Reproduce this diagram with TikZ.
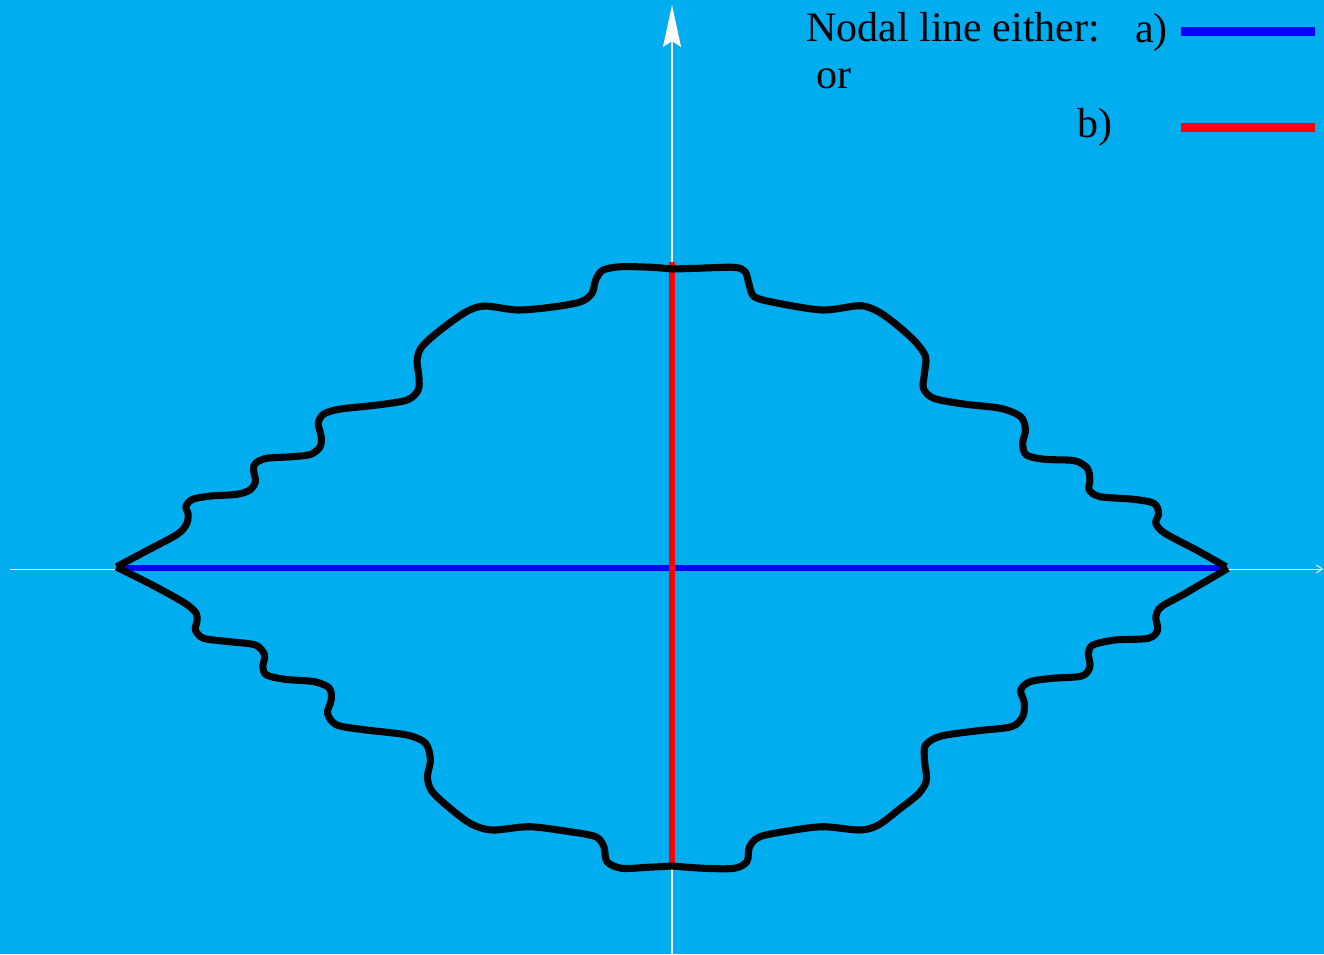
\documentclass[tikz,border=0pt]{standalone}
\usepackage{fontspec}
\setmainfont{Liberation Serif}
\usetikzlibrary{arrows.meta}
\definecolor{bgcyan}{RGB}{0,174,239}
\definecolor{nodalblue}{RGB}{0,0,255}
\definecolor{nodalred}{RGB}{255,0,0}
\tikzset{
  axisline/.style={white, line width=0.6pt},
  vaxis/.style={white, line width=1.5pt},
  wavy/.style={black, line width=5.3pt, line cap=butt, line join=round},
  nodala/.style={nodalblue, line width=5.2pt},
  nodalb/.style={nodalred, line width=5.2pt},
  keyline/.style={line width=6.75pt},
  legtext/.style={anchor=base west, inner sep=0pt, font=\fontsize{31.5}{37}\selectfont}
}
\begin{document}
\begin{tikzpicture}[x=0.75pt, y=-0.75pt]
\fill[bgcyan] (0,0) rectangle (1324,954);
\useasboundingbox (0,0) rectangle (1324,954);

% axes
\coordinate (hl) at (10,569);
\coordinate (hr) at (1323,569);
\coordinate (vb) at (672,954);
\coordinate (vt) at (672,5);
\draw[axisline, -{Straight Barb[length=4.5pt,width=6pt,line width=0.6pt]}] (hl) -- (hr);
\draw[vaxis, -{Stealth[length=31.5pt,width=13.5pt,inset=4.5pt]}] (vb) -- (vt);

% nodal lines
\coordinate (ltip) at (117,568);
\coordinate (rtip) at (1226,568);
\coordinate (ctop) at (672,262);
\coordinate (cbot) at (672,866);
\draw[nodala] (ltip) -- (rtip);
\draw[nodalb] (ctop) -- (cbot);

% wavy boundary: four quarters
\draw[wavy] plot[smooth, tension=0.5] coordinates {
(116.6,566.7) (148.1,550) (177.7,534) (186.9,523.3) (188,513.3) (185.8,506.7) (192.5,499.3) (211,496) (236.9,494.3) (249.8,490) (255.4,481.7) (253.5,470) (255.4,463.3) (266.5,458.3) (292.4,456.7) (310.9,454.3) (320.1,446.7) (321.2,436.7) (318.3,423.3) (323.8,414) (340.5,409) (377.5,405) (407.1,400) (418.2,390) (418.9,376.7) (417.1,360) (421.9,346.7) (440.4,330) (466.3,311.7) (484.8,306) (518.1,310) (555,306.7) (580.9,301.7) (592,293.3) (595.7,280) (603.1,270) (621.6,266.7) (651.2,267.3) (672,269)};
\draw[wavy] plot[smooth, tension=0.5] coordinates {
(672,269) (697,268.3) (734,267.3) (745.1,271.7) (748.8,283.3) (754.3,296.7) (778.4,303.3) (822.8,310) (859.8,305.7) (878.3,311.7) (896.8,325) (915.3,341.7) (925.6,356.7) (924.5,373.3) (923.4,388.3) (933.8,398.3) (963.4,404) (1000.4,408.3) (1020.7,416.7) (1025.5,430) (1022.6,443.3) (1026.3,455) (1044.8,459.3) (1074.4,460.7) (1087.3,468.3) (1089.9,480) (1089.2,490) (1100.2,496.7) (1133.6,499.3) (1153.9,503.3) (1158.7,513.3) (1155.8,523.3) (1165,533.3) (1196.4,550) (1226,566.7)};
\draw[wavy] plot[smooth, tension=0.5] coordinates {
(116.6,567) (155.5,586.7) (185.1,603.3) (196.2,613.3) (196.9,621.7) (195.4,630) (203.6,638.3) (229.5,641.7) (255.4,645) (264.6,655) (262.8,666.7) (266.5,675) (285,679.3) (314.6,681.7) (329.4,688.3) (331.2,700) (327.5,713.3) (336.8,725) (366.4,730) (407.1,735) (425.6,743.3) (430.4,760) (427.4,776.7) (431.1,790) (444.1,803.3) (470,823.3) (492.2,830) (529.2,826.7) (569.8,831.7) (595.7,836.7) (603.9,846.7) (606.9,861.7) (621.7,868.3) (647.5,867.3) (672,866)};
\draw[wavy] plot[smooth, tension=0.5] coordinates {
(672,866) (704.4,868.3) (734,868.3) (746.9,861.7) (749.5,846.7) (759.9,836.7) (789.5,830.7) (822.8,826.7) (859.8,830) (878.3,825) (900.5,808.3) (919,793.3) (926.4,780) (924.5,760) (925.6,745) (941.2,736) (978.2,730.7) (1011.5,726.7) (1022.6,716.7) (1024.4,703.3) (1020.7,690) (1030,681.7) (1052,678.3) (1081.8,676) (1089.9,666.7) (1088.4,653.3) (1092.9,645) (1115,640) (1148.3,638.3) (1157.6,630) (1155.8,616.7) (1161.3,606.7) (1185.3,593.3) (1227.9,568.3)};

% legend
\node[legtext] (lbl) at (806,41.7) {Nodal line either:};
\node[legtext] (lbla) at (1135,42) {a)};
\node[legtext] (lblor) at (816.5,88) {or};
\node[legtext] (lblb) at (1077,137) {b)};
\coordinate (ka1) at (1181,31);
\coordinate (ka2) at (1315,31);
\coordinate (kb1) at (1181,127);
\coordinate (kb2) at (1315,127);
\draw[keyline, nodalblue] (ka1) -- (ka2);
\draw[keyline, nodalred] (kb1) -- (kb2);
\end{tikzpicture}
\end{document}
